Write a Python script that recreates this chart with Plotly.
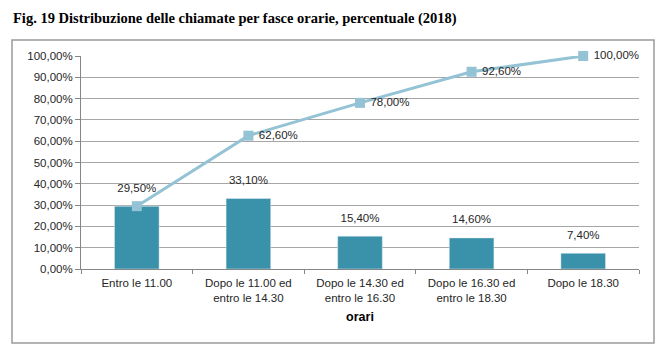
import plotly.graph_objects as go

categories = ["Entro le 11.00", "Dopo le 11.00 ed<br>entro le 14.30", "Dopo le 14.30 ed<br>entro le 16.30",
              "Dopo le 16.30 ed<br>entro le 18.30", "Dopo le 18.30"]
share = [29.5, 33.1, 15.4, 14.6, 7.4]
cumulative = [29.5, 62.6, 78.0, 92.6, 100.0]
y_ticks = [0, 10, 20, 30, 40, 50, 60, 70, 80, 90, 100]

# page body has an 8px margin: compensate
OFF = 8
W, H = 668 - OFF, 357 - OFF
L, R, T, B = 81 - OFF, 29, 56 - OFF, 88
pw, ph = W - L - R, H - T - B

def px_x(px):
    return (px - OFF - L) / pw

def px_y(py):
    return (H - B - (py - OFF)) / ph

def fmt(v):
    return f"{v:.2f}".replace(".", ",") + "%"

line_text = [""] + [" " + fmt(v) for v in cumulative[1:]]
label_font = dict(family="Liberation Sans", size=11.5, color="#262626")

fig = go.Figure()
fig.add_trace(go.Bar(
    x=categories, y=share, marker_color="#3A91AA", width=0.4, hoverinfo="skip",
))
fig.add_trace(go.Scatter(
    x=categories, y=share, mode="markers+text",
    marker=dict(size=17, color="rgba(0,0,0,0)"),
    text=[fmt(v) for v in share], textposition="top center",
    textfont=label_font, cliponaxis=False, hoverinfo="skip",
))
fig.add_trace(go.Scatter(
    x=categories, y=cumulative, mode="lines+markers+text",
    line=dict(color="#93C3D5", width=3),
    marker=dict(symbol="square", size=10, color="#93C3D5"),
    text=line_text, textposition="middle right",
    textfont=label_font, cliponaxis=False,
))

fig.update_layout(
    width=W, height=H, margin=dict(l=L, r=R, t=T, b=B),
    paper_bgcolor="white", plot_bgcolor="white", showlegend=False,
    font=dict(family="Liberation Sans", size=11.5, color="#262626"),
    xaxis=dict(showline=True, linecolor="#868686", linewidth=1, ticks="outside", tickson="boundaries",
               ticklen=4, tickcolor="#868686", showgrid=False, automargin=False,
               ticklabelstandoff=3,
               title=dict(text="<b>orari</b>", font=dict(size=12.5, color="black"), standoff=9)),
    yaxis=dict(range=[0, 100], tickvals=y_ticks, ticktext=[fmt(v) for v in y_ticks],
               showline=True, linecolor="#868686", linewidth=1, ticks="outside", ticklen=5,
               tickcolor="#868686", showgrid=True, gridcolor="#A6A6A6", gridwidth=1, zeroline=False,
               automargin=False),
    annotations=[dict(text="<b>Fig. 19 Distribuzione delle chiamate per fasce orarie, percentuale (2018)</b>",
                      xref="paper", yref="paper", x=px_x(11), y=px_y(18), xanchor="left", yanchor="middle",
                      showarrow=False,
                      font=dict(family="Liberation Serif", size=14.5, color="black"))],
    shapes=[dict(type="rect", xref="paper", yref="paper",
                 x0=px_x(12), x1=px_x(654), y0=px_y(343), y1=px_y(40),
                 line=dict(color="#9A9A9A", width=1.5), layer="below")],
)

fig.write_html("out.html")
